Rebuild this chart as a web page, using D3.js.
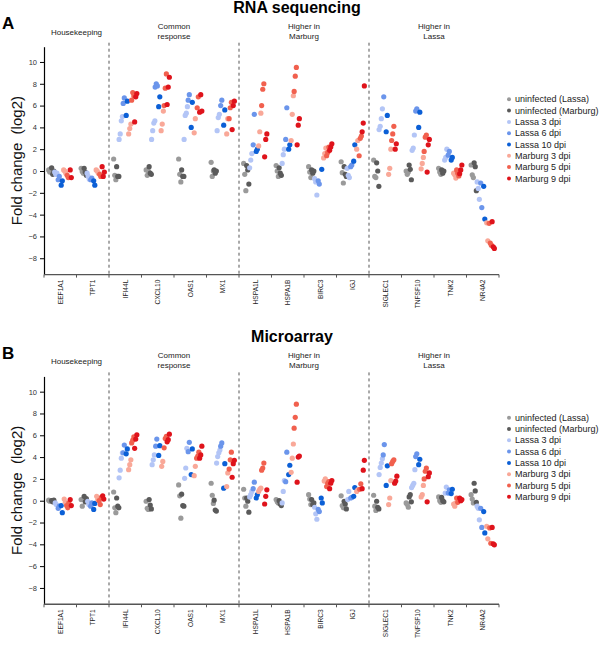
<!DOCTYPE html>
<html><head><meta charset="utf-8">
<script src="https://cdn.jsdelivr.net/npm/d3@7"></script>
<style>body{margin:0;background:#fff} svg{font-family:"Liberation Sans",Arial,sans-serif}</style>
</head><body><svg id="chart" width="600" height="646"></svg>
<script>
const genes = ["EEF1A1","TPT1","IFI44L","CXCL10","OAS1","MX1","HSPA1L","HSPA1B","BIRC3","IGJ","SIGLEC1","TNFSF10","TNK2","NR4A2"];
const groupNames = ["uninfected (Lassa)","uninfected (Marburg)","Lassa 3 dpi","Lassa 6 dpi","Lassa 10 dpi","Marburg 3 dpi","Marburg 5 dpi","Marburg 9 dpi"];
const groupColors = ["#9a9a9a","#5a5a5a","#b3c5f6","#6b95eb","#0b5fd6","#f9a898","#f1604e","#df131b"];
const yTicks = [-8,-6,-4,-2,0,2,4,6,8,10];
const categoryLabels = [["Housekeeping"],["Common","response"],["Higher in","Marburg"],["Higher in","Lassa"]];
const categorySpans = [["EEF1A1","TPT1"],["IFI44L","MX1"],["HSPA1L","IGJ"],["SIGLEC1","NR4A2"]];
const panelTitles = ["RNA sequencing","Microarray"];
const panelLetters = ["A","B"];
const yLabel = "Fold change  (log2)";

// RNA sequencing: per gene, 8 groups (order of groupNames), replicates
const rna_EEF1A1 = [[0.1,-0.1,0.2],[0.3,-0.3,0.0],[-0.1,-0.3,-0.2],[-0.8,-0.5],[-1.3,-0.9],[0.1,0.0,-0.2],[-0.4,-0.6],[0.1,-0.6]];
const rna_TPT1 = [[0.25,-0.05,-0.2],[0.25,-0.1,-0.4],[-0.2,-0.5,-0.75],[-0.8,-0.65],[-0.9,-1.3],[0.1,0.0,-0.2],[-0.3,-0.5],[0.4,-0.5,-0.1]];
const rna_IFI44L = [[1.1,-0.4,-0.8],[0.4,-0.5,-0.5],[2.9,3.4,4.6,5.0],[6.2,6.7],[5.1,6.4],[3.4,3.9,4.3],[6.5,7.2,6.9],[4.5,6.8,7.1]];
const rna_CXCL10 = [[0.1,-0.4,0.0],[0.4,-0.2,-0.3],[2.9,3.7,4.4,4.6],[7.7,8.0,7.8],[5.9,6.8],[3.7,4.3,5.5],[6.0,7.6,8.9],[6.1,7.7,8.6]];
const rna_OAS1 = [[1.1,-0.3,-1.0],[0.1,-0.5,-0.5],[2.9,5.1,5.3,5.9],[6.5,7.0],[4.0,6.3],[3.5,4.8],[5.8,6.8],[5.4,7.0,5.5]];
const rna_MX1 = [[0.8,-0.5,0.0],[0.1,-0.2,0.0],[3.7,4.9,5.2],[6.0,6.5],[4.2,5.6],[3.4,4.8],[4.8,5.8,6.3],[3.8,6.0,6.4]];
const rna_HSPA1L = [[0.7,-0.3,-1.8],[0.5,0.1,-1.2],[0.3,1.0,1.6],[2.4,5.2],[1.8,2.0],[2.3,3.6,5.3],[6.0,7.5,8.0],[1.3,2.9,3.4]];
const rna_HSPA1B = [[0.5,0.0,-0.5],[0.3,-0.2,-0.4],[0.7,1.5,2.0],[2.9,5.8],[2.0,2.4],[2.8,5.2,6.9],[7.3,8.7,9.5],[2.4,4.2,4.8]];
const rna_BIRC3 = [[0.4,-0.1,-0.6],[0.1,-0.2,0.0],[-0.7,-1.0,-2.2],[-0.9,-1.2],[0.15],[1.2,1.6,2.1],[1.4,1.7,2.2],[1.9,2.2,2.5]];
const rna_IGJ = [[0.85,-0.15,-1.1],[0.4,-0.3,-0.5],[0.25,-0.4,-0.6],[0.4,0.55],[0.9,2.4],[2.0,2.8],[1.4,3.0,3.2],[3.6,4.4,7.8]];
const rna_SIGLEC1 = [[1.0,-0.5,-0.6],[0.75,0.0,-1.4],[3.8,4.1,4.8,5.7],[6.8],[3.6,5.1],[-0.3,0.25,2.0],[2.8,3.4,4.1],[2.0,2.5]];
const rna_TNFSF10 = [[0.0,-0.3,-0.1],[0.55,0.15,-0.8],[1.9,2.1,3.3],[5.5,5.7],[4.0,5.4],[0.2,0.7,1.25],[1.8,3.1,3.3],[-0.1,2.4,2.9]];
const rna_TNK2 = [[0.25,-0.1,-0.3],[0.1,-0.2,0.0],[1.0,1.25,2.0],[1.45,1.8],[1.0,1.25],[-0.2,-0.35,-0.65],[0.1,-0.2,-0.45],[-0.25,0.1,0.55]];
const rna_NR4A2 = [[0.55,-0.35,-0.6],[0.75,0.4,-1.8],[-1.0,-1.6,-2.6],[-1.1,-3.35],[-1.4,-4.4],[-4.75,-6.4],[-4.8,-6.6,-6.8],[-4.65,-6.95,-7.1]];

// Microarray
const ma_EEF1A1 = [[0.05,-0.05,0.0],[0.0,-0.1,0.05],[-0.2,-0.35],[-0.7,-0.5],[-0.45,-1.1],[0.15,-0.15],[-0.45,-0.65,-0.2],[0.1,-0.45]];
const ma_TPT1 = [[0.1,-0.5,0.15],[0.4,-0.1,0.2],[-0.05,-0.35],[-0.5,-0.2],[-0.8,-0.25],[0.4,0.1],[0.0,-0.35,0.3],[0.45,0.15]];
const ma_IFI44L = [[0.8,-0.65,-1.1],[0.25,-0.5,-0.65],[2.1,2.8,3.9,4.4],[4.4,5.1],[4.3,4.75],[2.85,3.3,3.75],[5.3,5.55,5.85],[4.8,5.65,6.05]];
const ma_CXCL10 = [[-0.05,-0.7,-0.8],[0.1,-0.4,-0.75],[3.3,3.75,4.2],[5.0,5.65],[4.15,5.05],[3.15,3.6],[4.85,5.7,5.9],[5.4,5.6,6.1]];
const ma_OAS1 = [[1.45,0.45,-1.6],[0.6,-0.45,-0.5],[2.05,3.0,4.8],[4.5,5.35],[2.4,4.75],[2.3,3.15],[3.9,4.1,4.45],[3.9,4.2,5.0]];
const ma_MX1 = [[1.6,0.5,-0.25],[0.05,-0.85,-0.95],[3.45,4.05,4.4,4.65],[5.0,5.3],[1.15,3.4],[1.3,2.55],[2.9,3.75,4.45],[2.15,3.4,3.7]];
const ma_HSPA1L = [[1.05,0.25,-0.5],[0.25,-0.05,-1.05],[0.35,0.55,0.85],[1.1,1.7],[0.25,0.55],[0.85,1.05,1.15],[2.8,3.0,3.45],[-0.3,0.4,1.0]];
const ma_HSPA1B = [[0.1,-0.1,-0.2],[0.0,-0.3,-0.45],[-0.2,0.85,1.85],[1.75,4.45],[2.4,3.25],[2.6,3.9,5.2],[6.65,7.65,8.85],[1.7,4.0,4.1]];
const ma_BIRC3 = [[0.55,0.15,-0.35],[0.1,-0.35,-0.2],[-0.6,-1.2,-1.7],[-0.8,-1.0],[0.25,-0.2],[1.8,2.0],[1.3,1.6,1.75],[1.1,1.6,1.85]];
const ma_IGJ = [[0.45,-0.45,-0.65],[-0.05,-0.3,-0.75],[0.1,0.85],[0.25,0.3],[0.4,1.2],[0.85,1.0],[1.05,1.55],[1.1,2.8,3.7]];
const ma_SIGLEC1 = [[0.5,-0.5,-0.9],[-0.05,-0.6,-0.75],[2.4,3.05,3.45,3.85],[4.2,5.15],[1.4,3.2],[-0.35,0.25,1.85],[3.4,3.6,3.75],[1.6,1.8,2.25]];
const ma_TNFSF10 = [[-0.2,-0.35,-0.6],[0.35,0.55,-0.1],[1.2,1.4,1.6,2.85],[4.05,4.3],[3.3,3.8],[0.35,0.55,1.4],[2.0,2.7,3.0],[-0.1,2.2,2.55]];
const ma_TNK2 = [[0.35,0.0,-0.15],[0.3,0.0,-0.1],[0.7,1.25],[0.7,1.0],[0.65,1.05],[-0.3,-0.5,-0.2],[0.25,-0.15,0.0],[0.25,0.0,0.1]];
const ma_NR4A2 = [[0.55,0.15,-0.2],[1.6,0.9,-0.15],[-0.5,-0.7,-1.75],[-0.7,-2.45],[-1.0,-2.95],[-2.35,-3.5],[-2.5,-3.9],[-2.45,-3.95,-4.05]];

const rnaSeq = [rna_EEF1A1,rna_TPT1,rna_IFI44L,rna_CXCL10,rna_OAS1,rna_MX1,rna_HSPA1L,rna_HSPA1B,rna_BIRC3,rna_IGJ,rna_SIGLEC1,rna_TNFSF10,rna_TNK2,rna_NR4A2];
const microarray = [ma_EEF1A1,ma_TPT1,ma_IFI44L,ma_CXCL10,ma_OAS1,ma_MX1,ma_HSPA1L,ma_HSPA1B,ma_BIRC3,ma_IGJ,ma_SIGLEC1,ma_TNFSF10,ma_TNK2,ma_NR4A2];

const FONT = "'Liberation Sans', Arial, sans-serif";
const svg = d3.select("#chart");
const x = d3.scaleBand().domain(genes).range([44, 499]).padding(0);
const bw = x.bandwidth();
const gx = d3.scalePoint().domain(groupNames).range([-10.5, 10.5]);
const color = d3.scaleOrdinal().domain(groupNames).range(groupColors);

const panels = [
  {data: rnaSeq, dy: 0, legendY: 99.3, titleX: 297},
  {data: microarray, dy: 329.7, legendY: 417.7, titleX: 292}
];

panels.forEach((p, pi) => {
  const dy = p.dy;
  const g = svg.append("g").attr("font-family", FONT);
  const y = d3.scaleLinear().domain([-9.5, 11.4]).range([274.6 + dy, 46.7 + dy]);
  const yBottom = y(-9.5);

  g.append("text").attr("x", p.titleX).attr("y", 12.5 + dy).attr("text-anchor", "middle")
    .attr("font-size", 16).attr("font-weight", "bold").attr("fill", "#000").text(panelTitles[pi]);
  g.append("text").attr("x", 2).attr("y", 29 + dy)
    .attr("font-size", 17).attr("font-weight", "bold").attr("fill", "#000").text(panelLetters[pi]);

  ["IFI44L","HSPA1L","SIGLEC1"].forEach(gn => {
    g.append("line").attr("x1", x(gn)).attr("x2", x(gn))
      .attr("y1", 42.7 + dy).attr("y2", yBottom)
      .attr("stroke", "#555").attr("stroke-width", 1).attr("stroke-dasharray", "3,3");
  });

  categoryLabels.forEach((lines, ci) => {
    const cx = (x(categorySpans[ci][0]) + x(categorySpans[ci][1]) + bw) / 2;
    const t = g.append("text").attr("text-anchor", "middle").attr("font-size", 8).attr("fill", "#222");
    if (lines.length === 1) {
      t.append("tspan").attr("x", cx).attr("y", 34.5 + dy).text(lines[0]);
    } else {
      lines.forEach((l, li) => t.append("tspan").attr("x", cx).attr("y", 28.5 + dy + li * 10).text(l));
    }
  });

  const yAxis = g.append("g").attr("transform", "translate(44,0)")
    .call(d3.axisLeft(y).tickValues(yTicks).tickSize(4).tickSizeOuter(0).tickPadding(3));
  yAxis.attr("font-family", FONT);
  yAxis.select(".domain").attr("stroke", "#000").attr("stroke-width", 1.2);
  yAxis.selectAll(".tick line").attr("stroke", "#000");
  yAxis.selectAll(".tick text").attr("font-size", 7.5).attr("fill", "#333");

  g.append("line").attr("x1", 44).attr("x2", 499).attr("y1", yBottom).attr("y2", yBottom)
    .attr("stroke", "#555").attr("stroke-width", 1.4);
  const bounds = genes.map(gn => x(gn)).concat([x(genes[genes.length - 1]) + bw]);
  g.selectAll(".xb").data(bounds).enter().append("line")
    .attr("x1", d => d).attr("x2", d => d).attr("y1", yBottom).attr("y2", yBottom + 3)
    .attr("stroke", "#555").attr("stroke-width", 1);
  g.selectAll(".xl").data(genes).enter().append("text")
    .attr("transform", d => `translate(${x(d) + bw / 2},${yBottom + 5}) rotate(-90) scale(0.85,1)`)
    .attr("text-anchor", "end").attr("dy", "0.35em").attr("font-size", 7.8).attr("fill", "#222")
    .text(d => d);

  g.append("text").attr("transform", `translate(22,${(y(-9.5) + y(11.4)) / 2}) rotate(-90)`)
    .attr("text-anchor", "middle").attr("font-size", 15).attr("fill", "#111")
    .style("white-space", "pre").text(yLabel);

  const pts = [];
  p.data.forEach((geneVals, gi) => {
    geneVals.forEach((vals, k) => {
      vals.forEach((v, j) => {
        pts.push({gene: genes[gi], group: groupNames[k], v, off: (j - (vals.length - 1) / 2) * 1.1});
      });
    });
  });
  g.selectAll(".dot").data(pts).enter().append("circle")
    .attr("cx", d => x(d.gene) + bw / 2 + gx(d.group) + d.off)
    .attr("cy", d => y(d.v)).attr("r", 2.6)
    .attr("fill", d => color(d.group));

  const lg = g.append("g");
  groupNames.forEach((gn, i) => {
    const ly = p.legendY + i * 11.3;
    lg.append("circle").attr("cx", 509).attr("cy", ly).attr("r", 2).attr("fill", color(gn));
    lg.append("text").attr("x", 515).attr("y", ly).attr("dy", "0.35em").attr("font-size", 9)
      .attr("fill", "#222").text(gn);
  });
});
</script></body></html>
